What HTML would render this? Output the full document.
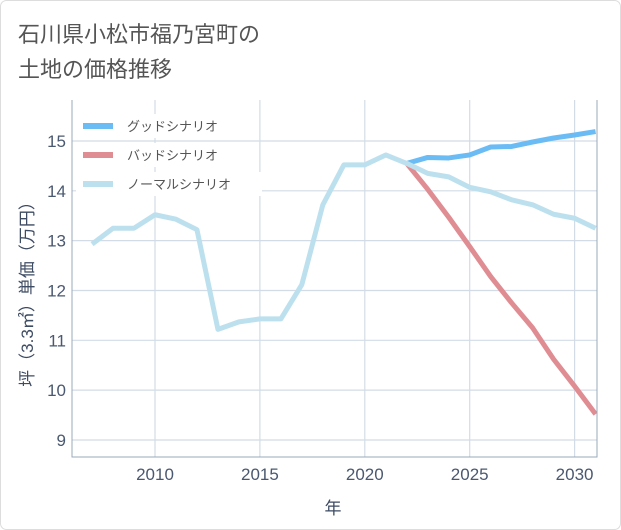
<!DOCTYPE html>
<html><head><meta charset="utf-8"><style>
body{margin:0;background:#fff;}
svg{display:block;font-family:"Liberation Sans","Noto Sans CJK JP",sans-serif;}
</style></head><body>
<svg width="621" height="530">
<rect x="0.5" y="0.5" width="620" height="529" rx="6" fill="#fff" stroke="#ddd"/>
<text x="18" y="42" font-size="22" fill="#555">石川県小松市福乃宮町の</text>
<text x="18" y="77" font-size="22" fill="#555">土地の価格推移</text>
<g id="grid"></g>
<g id="series"></g>
<g id="axes"></g>
<g id="legend"></g>
<text transform="translate(33,290) rotate(-90)" text-anchor="middle" font-size="17" fill="#3d4b63">坪（3.3㎡）単価（万円）</text>
<text x="333" y="514" text-anchor="middle" font-size="17" fill="#3d4b63">年</text>
</svg>
<script>
const years=[2007,2008,2009,2010,2011,2012,2013,2014,2015,2016,2017,2018,2019,2020,2021,2022,2023,2024,2025,2026,2027,2028,2029,2030,2031];
const normalVals=[12.93,13.25,13.25,13.52,13.43,13.22,11.22,11.37,11.43,11.43,12.12,13.72,14.52,14.52,14.72,14.55,14.35,14.28,14.07,13.98,13.82,13.72,13.53,13.45,13.25];
const futureYears=[2022,2023,2024,2025,2026,2027,2028,2029,2030,2031];
const goodVals=[14.55,14.67,14.66,14.72,14.88,14.89,14.98,15.06,15.12,15.19];
const badVals=[14.55,14.03,13.47,12.88,12.28,11.75,11.25,10.62,10.08,9.52];
const xTicks=[2010,2015,2020,2025,2030];
const yTicks=[9,10,11,12,13,14,15];
const legendLabels=["グッドシナリオ","バッドシナリオ","ノーマルシナリオ"];
const L=72,R=597,T=100,B=457;
const x=v=>155+(v-2010)*20.98;
const y=v=>141+(15-v)*49.83;
const NS="http://www.w3.org/2000/svg";
function mk(tag,parent,attrs){const e=document.createElementNS(NS,tag);for(const k in attrs)e.setAttribute(k,attrs[k]);parent.appendChild(e);return e;}
const grid=document.getElementById('grid'),axes=document.getElementById('axes'),ser=document.getElementById('series'),leg=document.getElementById('legend');
xTicks.forEach(t=>{
 const l=mk('line',grid,{x1:x(t),x2:x(t),y1:T,y2:B,stroke:'#d3dce6','stroke-width':1.2});
 
 
 const s=mk('text',axes,{x:x(t),y:B+23,'text-anchor':'middle','font-size':17,fill:'#4a5870'});s.textContent=t;
 
 
});
yTicks.forEach(t=>{
 const l=mk('line',grid,{x1:L,x2:R,y1:y(t),y2:y(t),stroke:'#d3dce6','stroke-width':1.2});
 
 
 const s=mk('text',axes,{x:L-6,y:y(t)+6,'text-anchor':'end','font-size':17,fill:'#4a5870'});s.textContent=t;
 
 
});
const ax=mk('path',axes,{d:`M${L},${T}V${B}H${R}V${T}`,fill:'none',stroke:'#9aa8b8','stroke-width':1});


function line(xs,vs,color,name){
 const p=mk('polyline',ser,{points:xs.map((v,i)=>x(v)+','+y(vs[i])).join(' '),fill:'none',stroke:color,'stroke-width':5,'stroke-linejoin':'round'});
 
 
}
line(futureYears,goodVals,'#6bbcf5','good-scenario-line');
line(futureYears,badVals,'#e08c93','bad-scenario-line');
line(years,normalVals,'#bde0ee','normal-scenario-line');
const cols=['#6bbcf5','#e08c93','#bde0ee'];
legendLabels.forEach((lab,i)=>{
 const yy=126+i*29;
 const bg=mk('rect',leg,{x:76,y:yy-12,width:i==2?186:158,height:24,fill:'#fff'});
 
 
 const l=mk('line',leg,{x1:83,x2:113,y1:yy,y2:yy,stroke:cols[i],'stroke-width':6});
 
 
 const t=mk('text',leg,{x:127,y:yy+5,'font-size':13,fill:'#555'});t.textContent=lab;
 
 
});
</script>
</body></html>
